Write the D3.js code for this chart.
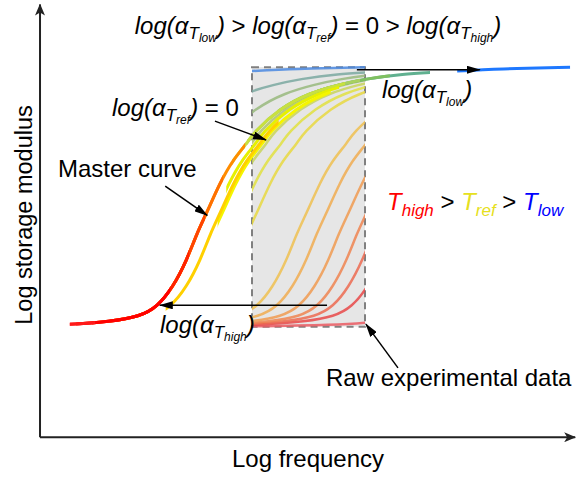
<!DOCTYPE html>
<html>
<head>
<meta charset="utf-8">
<script src="https://cdn.jsdelivr.net/npm/d3@7"></script>
<style>
  body { margin: 0; background: #fff; }
  svg { display: block; font-family: "Liberation Sans", Arial, sans-serif; }
</style>
</head>
<body>
<div id="chart"></div>
<script>

// Master curve (log frequency, log storage modulus)
const masterFreq = [-6.5, -4.03, -3.14, -2.48, -2.10, -1.75, -1.44, -1.22, -1.00, -0.71, -0.42, -0.11, 0.02, 0.62, 1.28, 1.95, 2.50, 3.27, 4.38, 5.49, 7.04];
const masterMod  = [5.98, 6.00, 6.04, 6.10, 6.21, 6.44, 6.76, 7.07, 7.31, 7.66, 7.93, 8.12, 8.24, 8.53, 8.71, 8.81, 8.87, 8.93, 8.96, 8.99, 9.01];
const masterStart = -4.03;

// One raw data set per temperature, hottest first: shift factor log(aT)
const shiftFactors = [-5.97, -4.31, -3.89, -3.54, -3.14, -2.65, -2.21, -1.11, -0.77, -0.44, -0.11, 0.55, 1.44, 4.54];
// how far each shifted set misses the master curve
const shiftMisfit  = [0, 0, 0, 0, 0, 0, 0.3, 0.35, 0.2, 0, 0, 0, 0, 0];
const shiftColors  = ["#ff1a1a", "#ff0000", "#ff2200", "#ff4400", "#ff7000", "#ff8c00", "#ffd000", "#f5f500", "#e6f000", "#c8e040", "#a8d060", "#80c060", "#60b090", "#1e78ff"];
const rawColors    = ["#ea5a62", "#e84848", "#ec6a50", "#ee8450", "#f09a50", "#f0ac50", "#eec050", "#e8d840", "#e0e040", "#c8d45a", "#b0c46c", "#98b87c", "#7aa8a0", "#4a88e0"];

// measurement window of the instrument
const windowFreq = [0, 2.5];
const windowMod = [5.98, 9.01];

// axis extents
const freqExtent = [-4.69, 7.15];
const modExtent = [4.69, 9.74];

// annotation arrows [from, to] in (freq, modulus)
const arrows = [
    [[-1.92, 7.62], [-0.99, 7.28]],   // master curve
    [[-0.82, 8.38], [0.31, 8.16]],    // log(aTref) = 0
    [[2.32, 8.98], [5.04, 8.98]],     // log(aTlow)
    [[1.66, 6.23], [-2.04, 6.23]],    // log(aThigh)
    [[3.23, 5.50], [2.52, 6.01]]      // raw data
];

const width = 577, height = 477;

const svg = d3.select("#chart").append("svg")
    .attr("width", width)
    .attr("height", height);

const x = d3.scaleLinear().domain(windowFreq).range([252, 365]);
const y = d3.scaleLinear().domain([6, 9]).range([325, 68]);

const line = d3.line()
    .x(d => x(d[0]))
    .y(d => y(d[1]))
    .curve(d3.curveBasis);

const defs = svg.append("defs");

defs.append("marker")
    .attr("id", "axisHead")
    .attr("markerUnits", "userSpaceOnUse")
    .attr("viewBox", "0 0 12 10")
    .attr("refX", 11).attr("refY", 5)
    .attr("markerWidth", 12).attr("markerHeight", 10)
    .attr("orient", "auto")
    .append("path")
    .attr("d", "M0,0 L12,5 L0,10 L3,5 Z")
    .attr("fill", "#222");

defs.append("marker")
    .attr("id", "noteHead")
    .attr("markerUnits", "userSpaceOnUse")
    .attr("viewBox", "0 0 14 8")
    .attr("refX", 13).attr("refY", 4)
    .attr("markerWidth", 14).attr("markerHeight", 8)
    .attr("orient", "auto")
    .append("path")
    .attr("d", "M0,0 L14,4 L0,8 Z")
    .attr("fill", "#000");

defs.append("clipPath")
    .attr("id", "windowClip")
    .append("rect")
    .attr("x", x(windowFreq[0]))
    .attr("width", x(windowFreq[1]) - x(windowFreq[0]))
    .attr("y", 0)
    .attr("height", height);

const curves = shiftFactors.map((s, i) => ({
    id: i,
    shift: s,
    misfit: shiftMisfit[i],
    color: shiftColors[i],
    rawColor: rawColors[i]
}));

curves.forEach(c => {
    let lo = Math.max(windowFreq[0] + c.shift + c.misfit, masterStart);
    let hi = windowFreq[1] + c.shift + c.misfit;
    defs.append("clipPath")
        .attr("id", "shiftClip" + c.id)
        .append("rect")
        .attr("x", x(lo))
        .attr("width", Math.max(0, x(hi) - x(lo)))
        .attr("y", 0)
        .attr("height", height);
});

// Axes
svg.append("line")
    .attr("x1", x(freqExtent[0])).attr("y1", y(modExtent[0]))
    .attr("x2", x(freqExtent[0])).attr("y2", y(modExtent[1]))
    .attr("stroke", "#222").attr("stroke-width", 2)
    .attr("marker-end", "url(#axisHead)");

svg.append("line")
    .attr("x1", x(freqExtent[0])).attr("y1", y(modExtent[0]))
    .attr("x2", x(freqExtent[1])).attr("y2", y(modExtent[0]))
    .attr("stroke", "#222").attr("stroke-width", 2)
    .attr("marker-end", "url(#axisHead)");

svg.append("text")
    .attr("x", 308).attr("y", 467)
    .attr("text-anchor", "middle")
    .attr("font-size", 24)
    .text("Log frequency");

svg.append("text")
    .attr("transform", "translate(32,215) rotate(-90)")
    .attr("text-anchor", "middle")
    .attr("font-size", 23.5)
    .text("Log storage modulus");

// Measurement window
svg.append("rect")
    .attr("x", x(windowFreq[0]))
    .attr("y", y(windowMod[1]))
    .attr("width", x(windowFreq[1]) - x(windowFreq[0]))
    .attr("height", y(windowMod[0]) - y(windowMod[1]))
    .attr("fill", "#e6e6e6")
    .attr("stroke", "#808080")
    .attr("stroke-width", 2)
    .attr("stroke-dasharray", "7,5");

// Raw curves inside the window
svg.append("g")
    .attr("clip-path", "url(#windowClip)")
    .selectAll(".raw")
    .data(curves)
    .enter()
    .append("path")
    .attr("class", "raw")
    .attr("d", c => line(masterFreq.map((f, j) => [f - c.shift, masterMod[j]])))
    .attr("fill", "none")
    .attr("stroke", c => c.rawColor)
    .attr("stroke-opacity", 0.85)
    .attr("stroke-width", 2.5);

// Shifted curves building the master curve, coldest drawn first
svg.append("g")
    .selectAll(".shifted")
    .data(curves.slice().reverse())
    .enter()
    .append("path")
    .attr("class", "shifted")
    .attr("clip-path", c => "url(#shiftClip" + c.id + ")")
    .attr("d", c => line(masterFreq.map((f, j) => [f + c.misfit, masterMod[j]])))
    .attr("fill", "none")
    .attr("stroke", c => c.color)
    .attr("stroke-width", 3);

// Annotation arrows
svg.selectAll(".note-arrow")
    .data(arrows)
    .enter()
    .append("line")
    .attr("class", "note-arrow")
    .attr("x1", d => x(d[0][0])).attr("y1", d => y(d[0][1]))
    .attr("x2", d => x(d[1][0])).attr("y2", d => y(d[1][1]))
    .attr("stroke", "#000")
    .attr("stroke-width", 1.5)
    .attr("marker-end", "url(#noteHead)");

// log(a_T) labels with nested subscripts
function logAlpha(text, sub) {
    text.append("tspan").attr("font-style", "italic").text("log(α");
    text.append("tspan").attr("font-style", "italic").attr("font-size", 17).attr("dy", 5).text("T");
    text.append("tspan").attr("font-style", "italic").attr("font-size", 12).attr("dy", 3).text(sub);
    text.append("tspan").attr("font-style", "italic").attr("dy", -8).text(")");
}

let title = svg.append("text")
    .attr("x", 318).attr("y", 34)
    .attr("text-anchor", "middle")
    .attr("font-size", 24);
logAlpha(title, "low");
title.append("tspan").text(" > ");
logAlpha(title, "ref");
title.append("tspan").text(" = 0 > ");
logAlpha(title, "high");

let refLabel = svg.append("text")
    .attr("x", 112).attr("y", 116)
    .attr("font-size", 24);
logAlpha(refLabel, "ref");
refLabel.append("tspan").text(" = 0");

let lowLabel = svg.append("text")
    .attr("x", 382).attr("y", 98)
    .attr("font-size", 24);
logAlpha(lowLabel, "low");

let highLabel = svg.append("text")
    .attr("x", 160).attr("y", 333)
    .attr("font-size", 24);
logAlpha(highLabel, "high");

svg.append("text")
    .attr("x", 58).attr("y", 177)
    .attr("font-size", 24)
    .text("Master curve");

svg.append("text")
    .attr("x", 326).attr("y", 386)
    .attr("font-size", 24)
    .text("Raw experimental data");

// Temperature order legend
let tempText = svg.append("text")
    .attr("x", 387).attr("y", 210)
    .attr("font-size", 24);
[["#ff0000", "high"], ["#e6e020", "ref"], ["#0000ff", "low"]].forEach((t, i) => {
    if (i > 0) tempText.append("tspan").attr("fill", "#000").attr("dy", -6).text(" > ");
    tempText.append("tspan").attr("fill", t[0]).attr("font-style", "italic").text("T");
    tempText.append("tspan").attr("fill", t[0]).attr("font-style", "italic").attr("font-size", 17).attr("dy", 6).text(t[1]);
});

</script>
</body>
</html>
